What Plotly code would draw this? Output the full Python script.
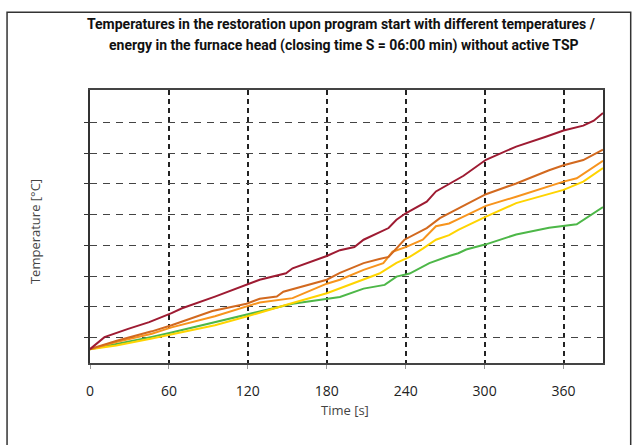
import plotly.graph_objects as go

# Time (s) and temperature (in grid units; axis has no value labels)
red_t = [0, 11, 29, 45, 62, 70, 95, 119, 129, 149, 154, 180, 190, 201, 208, 227, 233, 240, 256, 263, 280, 284, 301, 324, 346, 360, 375, 383, 390]
red_v = [0.62, 1.01, 1.28, 1.50, 1.79, 1.95, 2.33, 2.71, 2.88, 3.09, 3.25, 3.65, 3.84, 3.94, 4.18, 4.56, 4.83, 5.04, 5.42, 5.75, 6.18, 6.26, 6.78, 7.21, 7.52, 7.73, 7.89, 8.05, 8.30]

dorange_t = [0, 21, 47, 62, 93, 119, 129, 142, 147, 160, 180, 190, 208, 220, 227, 239, 256, 266, 273, 280, 286, 301, 324, 349, 360, 375, 390]
dorange_v = [0.62, 0.90, 1.20, 1.40, 1.86, 2.10, 2.26, 2.33, 2.49, 2.64, 2.88, 3.10, 3.42, 3.55, 3.62, 4.18, 4.56, 4.88, 5.03, 5.20, 5.33, 5.66, 6.01, 6.44, 6.60, 6.77, 7.11]

orange_t = [0, 20, 47, 62, 95, 119, 129, 154, 180, 190, 208, 223, 230, 240, 253, 263, 273, 280, 301, 324, 360, 370, 390]
orange_v = [0.62, 0.85, 1.12, 1.33, 1.69, 1.99, 2.14, 2.28, 2.75, 2.88, 3.20, 3.42, 3.79, 3.94, 4.18, 4.62, 4.71, 4.85, 5.28, 5.58, 6.07, 6.18, 6.75]

yellow_t = [0, 20, 47, 62, 95, 119, 129, 154, 180, 190, 208, 220, 233, 243, 253, 263, 273, 280, 301, 324, 360, 375, 390]
yellow_v = [0.62, 0.74, 0.97, 1.10, 1.40, 1.68, 1.80, 2.12, 2.44, 2.60, 2.87, 3.08, 3.43, 3.62, 3.89, 4.18, 4.33, 4.50, 4.93, 5.37, 5.80, 6.07, 6.51]

green_t = [0, 20, 47, 62, 95, 119, 129, 154, 190, 208, 224, 233, 243, 258, 273, 280, 286, 301, 324, 349, 370, 380, 390]
green_v = [0.62, 0.78, 1.02, 1.16, 1.49, 1.74, 1.85, 2.10, 2.32, 2.59, 2.71, 2.98, 3.08, 3.42, 3.65, 3.74, 3.86, 4.03, 4.35, 4.57, 4.68, 4.95, 5.24]

x_ticks = [0, 60, 120, 180, 240, 300, 360]
y_grid = [1, 2, 3, 4, 5, 6, 7, 8]

series = [
    (green_t, green_v, "#4DB748"),
    (yellow_t, yellow_v, "#FFD400"),
    (orange_t, orange_v, "#F7941D"),
    (dorange_t, dorange_v, "#D2691F"),
    (red_t, red_v, "#9E1B32"),
]

fig = go.Figure()
for t, v, c in series:
    fig.add_trace(go.Scatter(x=t, y=v, mode="lines", line=dict(color=c, width=2),
                             showlegend=False, hoverinfo="skip"))

fig.update_layout(
    width=632, height=445,
    margin=dict(l=90, r=29, t=90, b=82),
    plot_bgcolor="white", paper_bgcolor="white",
    font=dict(family="Open Sans, sans-serif", color="#222"),
)
fig.update_xaxes(
    range=[0, 390], tickvals=x_ticks, ticktext=[str(v) for v in x_ticks],
    showgrid=True, gridcolor="#222", gridwidth=1.6, griddash="5px,4px",
    showline=True, linecolor="#444", linewidth=1.5, mirror=True,
    ticks="outside", ticklen=4, tickcolor="#999",
    tickfont=dict(size=14, color="#222", family="Open Sans"),
    zeroline=False, ticklabelstandoff=10,
)
fig.update_yaxes(
    range=[0.17, 9.05], tickvals=y_grid, showticklabels=False,
    showgrid=True, gridcolor="#444", gridwidth=1.4, griddash="7px,6px",
    showline=True, linecolor="#333", linewidth=2, mirror=True,
    ticks="outside", ticklen=4, tickcolor="#333",
    zeroline=False,
)

fig.add_shape(type="rect", xref="paper", yref="paper",
              x0=-0.1617, x1=1.054, y0=-1.0, y1=1.285,
              line=dict(color="#333", width=1.5), fillcolor="rgba(0,0,0,0)", layer="below")

tfont = dict(family="Roboto, sans-serif", size=14, color="#111")
fig.add_annotation(text="<b>Temperatures in the restoration upon program start with different temperatures /</b>",
                   xref="paper", yref="paper", x=0.491, y=1.2415, showarrow=False,
                   xanchor="center", yanchor="middle", font=tfont)
fig.add_annotation(text="<b>energy in the furnace head (closing time S = 06:00 min) without active TSP</b>",
                   xref="paper", yref="paper", x=0.495, y=1.1646, showarrow=False,
                   xanchor="center", yanchor="middle", font=tfont)
fig.add_annotation(text="Time [s]", xref="paper", yref="paper", x=0.497, y=-0.171,
                   showarrow=False, xanchor="center", yanchor="middle",
                   font=dict(size=13, color="#444", family="Open Sans"))
fig.add_annotation(text="Temperature [°C]", xref="paper", yref="paper", x=-0.107, y=0.48,
                   showarrow=False, xanchor="center", yanchor="middle", textangle=-90,
                   font=dict(size=13, color="#444", family="Open Sans"))

fig.write_html("out.html", config={"displayModeBar": False})

# remove default page margin so the figure sits at the window's top-left corner
with open("out.html", "r", encoding="utf-8") as f:
    html = f.read()
html = html.replace("<head>", "<head><style>html,body{margin:0;padding:0;overflow:hidden;}</style>", 1)
with open("out.html", "w", encoding="utf-8") as f:
    f.write(html)
